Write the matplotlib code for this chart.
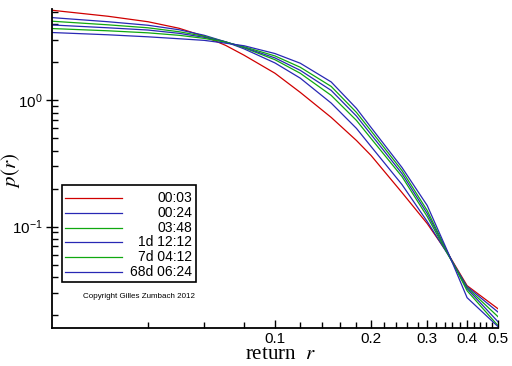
import numpy as np
import matplotlib
matplotlib.use('Agg')
import matplotlib.pyplot as plt
from matplotlib.ticker import FixedLocator, FixedFormatter, LogLocator, NullFormatter
from matplotlib.patches import Rectangle


# return values r (same grid for every curve)
r = [0.02, 0.03, 0.04, 0.05, 0.06, 0.07, 0.08, 0.1, 0.12, 0.15,
     0.18, 0.2, 0.25, 0.3, 0.35, 0.4, 0.5]

# p(r), one list per time horizon
p_0003 = [5.18, 4.64, 4.20, 3.73, 3.22, 2.73, 2.28, 1.64, 1.157, 0.733,
          0.481, 0.366, 0.186, 0.1056, 0.060, 0.0340, 0.0223]
p_0024 = [4.53, 4.20, 3.94, 3.63, 3.28, 2.91, 2.56, 1.98, 1.50, 0.952,
          0.600, 0.431, 0.2154, 0.1096, 0.0589, 0.0334, 0.0210]
p_0348 = [4.24, 3.97, 3.76, 3.50, 3.22, 2.91, 2.61, 2.10, 1.64, 1.096,
          0.694, 0.499, 0.249, 0.120, 0.0589, 0.0328, 0.0193]
p_1d = [3.96, 3.76, 3.61, 3.40, 3.16, 2.91, 2.63, 2.17, 1.73, 1.20,
        0.751, 0.537, 0.263, 0.127, 0.060, 0.0322, 0.0176]
p_7d = [3.71, 3.56, 3.43, 3.28, 3.10, 2.89, 2.66, 2.25, 1.83, 1.29,
        0.803, 0.573, 0.278, 0.134, 0.060, 0.0310, 0.0164]
p_68d = [3.45, 3.31, 3.19, 3.08, 2.99, 2.84, 2.71, 2.35, 1.97, 1.40,
         0.864, 0.610, 0.294, 0.1468, 0.0610, 0.0273, 0.0161]

labels = ['00:03', '00:24', '03:48', '1d 12:12', '7d 04:12', '68d 06:24']
colors = ['#d00000', '#2828b4', '#10a810', '#2828b4', '#10a810', '#2828b4']
series = [p_0003, p_0024, p_0348, p_1d, p_7d, p_68d]

x_major = [0.1, 0.2, 0.3, 0.4, 0.5]
x_major_labels = ['0.1', '0.2', '0.3', '0.4', '0.5']
x_minor = [0.04, 0.06, 0.08, 0.12, 0.14, 0.16, 0.18, 0.22, 0.24, 0.26, 0.28,
           0.32, 0.34, 0.36, 0.38, 0.42, 0.44, 0.46, 0.48]
y_major = [0.1, 1.0]
y_major_labels = [r'$\mathregular{10^{-1}}$', r'$\mathregular{10^{0}}$']

plt.rcParams['font.family'] = ['Liberation Sans', 'DejaVu Sans']
plt.rcParams['mathtext.fontset'] = 'stix'

fig = plt.figure(figsize=(5.12, 3.66), dpi=100)
ax = fig.add_axes([52 / 512, 1 - 328 / 366, 446 / 512, 319 / 366])

for ys, c in zip(series, colors):
  ax.plot(r, ys, color=c, lw=0.9)

ax.set_xscale('log')
ax.set_yscale('log')
ax.set_xlim(0.02, 0.5)
ax.set_ylim(0.0157, 5.3)

ax.xaxis.set_major_locator(FixedLocator(x_major))
ax.xaxis.set_major_formatter(FixedFormatter(x_major_labels))
ax.xaxis.set_minor_locator(FixedLocator(x_minor))
ax.xaxis.set_minor_formatter(NullFormatter())
ax.yaxis.set_major_locator(FixedLocator(y_major))
ax.yaxis.set_major_formatter(FixedFormatter(y_major_labels))
ax.yaxis.set_minor_locator(LogLocator(base=10, subs=np.arange(2, 10)))
ax.yaxis.set_minor_formatter(NullFormatter())

ax.tick_params(axis='x', which='major', direction='in', length=6, width=1, labelsize=11, pad=3)
ax.tick_params(axis='x', which='minor', direction='in', length=4, width=1)
ax.tick_params(axis='y', which='major', direction='inout', length=9, width=1, labelsize=11, pad=2)
ax.tick_params(axis='y', which='minor', direction='in', length=4, width=1)

for side in ['top', 'right']:
  ax.spines[side].set_visible(False)
for side in ['left', 'bottom']:
  ax.spines[side].set_linewidth(1.3)

# axis titles placed on the figure, serif like the original
fig.text(280 / 512, 1 - 359 / 366, r'return  $r$', family='Liberation Serif',
         fontsize=15, ha='center', va='baseline')
fig.text(11 / 512, 1 - 170 / 366, r'$p(r)$', fontsize=15, rotation=90,
         ha='center', va='center')

# hand-made legend, labels right aligned like the original
ax.add_patch(Rectangle((0.0224, 0.144), 0.3005, 0.304, transform=ax.transAxes,
                       fill=False, edgecolor='black', lw=1.2))
row_y = np.linspace(0.4075, 0.1755, len(labels))
for lab, c, yy in zip(labels, colors, row_y):
  ax.plot([0.0291, 0.157], [yy, yy], color=c, lw=0.9, transform=ax.transAxes)
  ax.text(0.3139, yy, lab, transform=ax.transAxes, ha='right', va='center', fontsize=10)

ax.text(0.195, 0.1003, 'Copyright Gilles Zumbach 2012', transform=ax.transAxes,
        ha='center', va='center', fontsize=5.8)

fig.savefig('out.png', dpi=100)
